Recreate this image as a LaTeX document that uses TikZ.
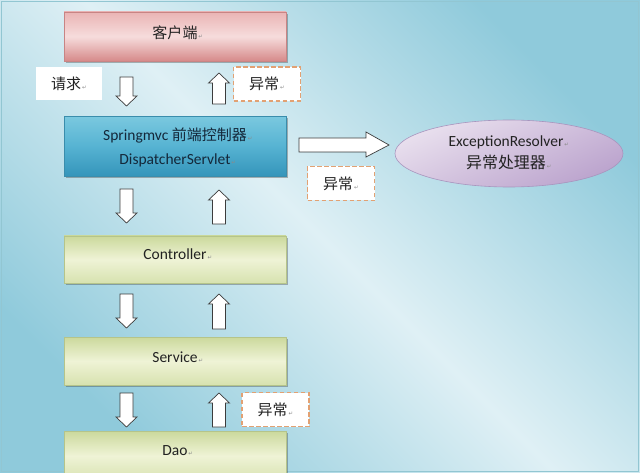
\documentclass[tikz,border=0pt]{standalone}
\usepackage{fontspec}
\setmainfont{Carlito}
\newfontfamily\cjk[Scale=0.968]{Noto Sans CJK SC}
\newfontfamily\symf{DejaVu Sans}
\usetikzlibrary{shapes.geometric,shadows}
\definecolor{bgdark}{HTML}{8FCADB}
\definecolor{bglight}{HTML}{DFF0F5}
\definecolor{framec}{HTML}{92C6D2}
\definecolor{txtdark}{HTML}{222222}
\definecolor{navy}{HTML}{14283A}
\definecolor{retgray}{HTML}{8A8A8A}
\definecolor{dashor}{HTML}{E2A173}
\definecolor{arrowgray}{HTML}{3C3C3C}
\newcommand\rmark{\rlap{\symf\fontsize{5.5}{5.5}\selectfont\color{retgray}\,↵}}
\newcommand\rmarkw{{\symf\fontsize{5.5}{5.5}\selectfont\color{retgray}\,↵}}
\newcommand\blkdown[3]{%
  \draw[blk] (#1-6.5,#2) -- (#1+6.5,#2) -- (#1+6.5,#3-10) -- (#1+10.5,#3-10) -- (#1,#3) -- (#1-10.5,#3-10) -- (#1-6.5,#3-10) -- cycle;}
\newcommand\blkup[3]{%
  \draw[blk] (#1,#2) -- (#1+10.5,#2+10) -- (#1+6.5,#2+10) -- (#1+6.5,#3) -- (#1-6.5,#3) -- (#1-6.5,#2+10) -- (#1-10.5,#2+10) -- cycle;}
\begin{document}
\begin{tikzpicture}[x=1pt,y=-1pt,
  box/.style={rectangle, minimum width=222pt, inner sep=0pt,
    drop shadow={shadow xshift=1.5pt, shadow yshift=-2pt, opacity=0.35, fill=black!80}},
  clientbox/.style={box, top color=pink1, bottom color=pink3, middle color=pink2, draw=pinkd, line width=0.5pt},
  springbox/.style={box, top color=blue1, bottom color=blue3, middle color=blue2, draw=blued, line width=0.5pt},
  greenbox/.style={box, top color=green1, bottom color=green3, middle color=green2, draw=greend, line width=0.5pt},
  lbl/.style={inner sep=0pt, text=txtdark, font=\fontsize{15.5}{18}\selectfont},
  dashbox/.style={draw=dashor, dash pattern=on 4.5pt off 2.5pt, line width=1.1pt, fill=white,
    minimum width=67pt, minimum height=34pt, inner sep=0pt, text=txtdark, font=\fontsize{15.5}{18}\selectfont\cjk},
  blk/.style={fill=white, draw=arrowgray, line width=0.7pt, line join=miter}]
\definecolor{pink1}{HTML}{EAB4B4}
\definecolor{pink2}{HTML}{F6DCDC}
\definecolor{pink3}{HTML}{D68A8A}
\definecolor{pinkd}{HTML}{C88484}
\definecolor{blue1}{HTML}{7AC8DF}
\definecolor{blue2}{HTML}{56B3D2}
\definecolor{blue3}{HTML}{3494BA}
\definecolor{blued}{HTML}{3A8DAC}
\definecolor{green1}{HTML}{CBD99C}
\definecolor{green2}{HTML}{EFF3D6}
\definecolor{green3}{HTML}{D7E2AF}
\definecolor{greend}{HTML}{B5C48A}
\definecolor{lav1}{HTML}{E9E0EE}
\definecolor{lav2}{HTML}{BBA3CD}
\definecolor{lavd}{HTML}{A895BE}
\useasboundingbox (0,0) rectangle (640,473);
\clip (0,0) rectangle (640,473);
% background
\shade[top color=bgdark, bottom color=bgdark, middle color=bglight, shading angle=-45] (0,0) rectangle (640,473);
\draw[framec, line width=1pt] (1.5,1.5) rectangle (638.5,471.5);

% main boxes
\node[clientbox, minimum height=49pt] (client) at (175,36.5) {};
\node[lbl] (clientT) at (175,33) {\cjk 客户端\rmark};

\node[springbox, minimum height=60pt] (spring) at (175,146.5) {};
\node[lbl, text=navy, align=center, font=\fontsize{15.5}{24}\selectfont] (springT) at (175,147)
  {Springmvc {\cjk 前端控制器}\rmark\\DispatcherServlet\rmark};

\node[greenbox, minimum height=47pt] (ctrl) at (175,259.5) {};
\node[lbl] (ctrlT) at (175,254) {Controller\rmark};

\node[greenbox, minimum height=48pt] (svc) at (175,361) {};
\node[lbl] (svcT) at (175,357) {Service\rmark};

\node[greenbox, minimum height=50pt] (dao) at (175,456) {};
\node[lbl] (daoT) at (175,451) {Dao\rmark};

% exception resolver
\node[ellipse, minimum width=228pt, minimum height=67pt, inner sep=0pt,
  top color=lav1, bottom color=lav2, shading angle=25, draw=lavd, line width=0.6pt] (res) at (509,153.5) {};
\node[lbl, align=center, font=\fontsize{15.5}{22}\selectfont] (resT) at (506,152.5)
  {ExceptionResolver\rmark\\{\cjk\fontsize{16.5}{22}\selectfont 异常处理器}\rmark};

% labels
\node[fill=white, minimum width=66pt, minimum height=33pt, inner sep=0pt, text=txtdark,
  font=\fontsize{15.5}{18}\selectfont\cjk] (req) at (69,83.5) {请求\rmarkw};
\node[dashbox] (ex1) at (267,84) {异常\rmarkw};
\node[dashbox] (ex2) at (341,183.5) {异常\rmarkw};
\node[dashbox] (ex3) at (275.5,409.5) {异常\rmarkw};

% block arrows
\blkdown{126.5}{77}{106}
\blkup{219}{73}{104}
\blkdown{126.5}{189}{223}
\blkup{219}{190}{224}
\blkdown{126.5}{294}{328}
\blkup{219}{294}{329}
\blkdown{126.5}{393}{427}
\blkup{219}{393}{427}
\draw[blk] (299,138) -- (366,138) -- (366,132) -- (389,145) -- (366,157) -- (366,152) -- (299,152) -- cycle;
\end{tikzpicture}
\end{document}
